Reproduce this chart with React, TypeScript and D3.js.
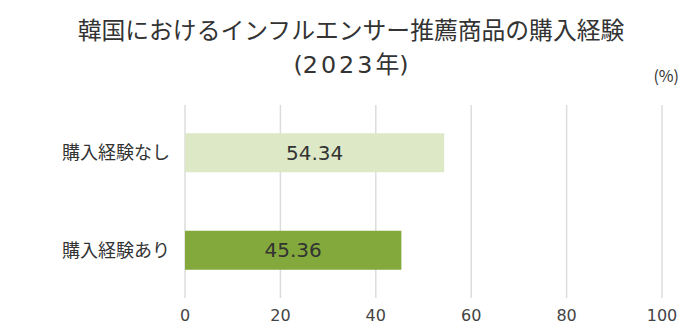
import React from "react";
import * as d3 from "d3";

const categories = ["購入経験なし", "購入経験あり"];
const values = [54.34, 45.36];
const colors = ["#dde9c6", "#83a93c"];
const ticks = [0, 20, 40, 60, 80, 100];
const titleLine1 = "韓国におけるインフルエンサー推薦商品の購入経験";
const titleYear = "2023";
const unitLabel = "(%)";

const W = 700;
const H = 335;
const FONT = "'Noto Sans CJK JP', 'Noto Sans', sans-serif";
const NUMFONT = "'DejaVu Sans', sans-serif";

export default function App() {
  const x = d3.scaleLinear().domain([0, 100]).range([185, 662]);
  const y = d3.scaleBand<string>().domain(categories).range([104, 299]).paddingInner(0.6).paddingOuter(0.3);
  return (
    <svg width={W} height={H} style={{ position: "absolute", left: 0, top: 0 }} fontFamily={FONT}>
      <rect width={W} height={H} fill="#fff" />
      <text textAnchor="middle" fontSize={23.8} fill="#333">
        <tspan x={351} y={39}>{titleLine1}</tspan>
        <tspan x={351} y={73}>
          <tspan fontFamily={NUMFONT}>(</tspan>
          <tspan fontFamily={NUMFONT} letterSpacing={3}>{titleYear}</tspan>
          <tspan>年</tspan>
          <tspan fontFamily={NUMFONT}>)</tspan>
        </tspan>
      </text>
      <text x={679} y={82} textAnchor="end" fontSize={16} fill="#333">{unitLabel}</text>
      {ticks.map((t) => (
        <g key={t}>
          <line x1={x(t)} x2={x(t)} y1={105} y2={298} stroke="#dcdcdc" strokeWidth={1.5} />
          <text x={x(t)} y={321} textAnchor="middle" fontSize={16} fill="#444" fontFamily={NUMFONT}>{t}</text>
        </g>
      ))}
      {categories.map((c, i) => (
        <g key={c}>
          <rect x={x(0)} y={y(c)} width={x(values[i]) - x(0)} height={y.bandwidth()} fill={colors[i]} />
          <text x={170} y={(y(c) as number) + y.bandwidth() / 2} dy="0.35em" textAnchor="end" fontSize={18} fill="#333">{c}</text>
          <text x={(x(0) + x(values[i])) / 2} y={(y(c) as number) + y.bandwidth() / 2} dy="0.36em" textAnchor="middle" fontSize={20} fill="#333" fontFamily={NUMFONT}>
            {values[i].toFixed(2)}
          </text>
        </g>
      ))}
    </svg>
  );
}
